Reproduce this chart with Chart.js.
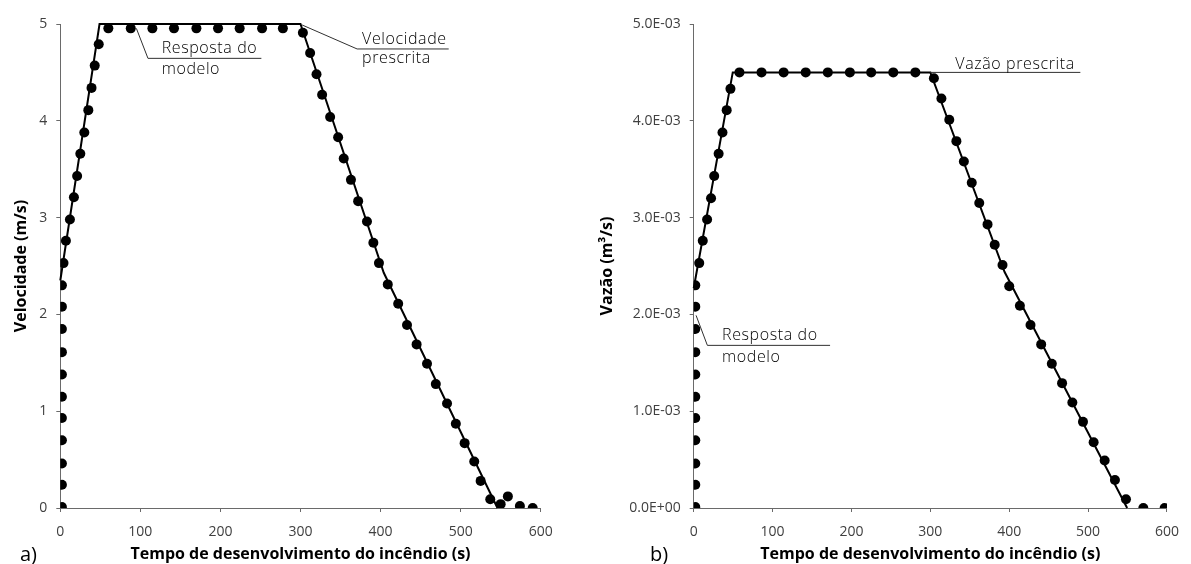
<!DOCTYPE html>
<html>
<head>
<meta charset="utf-8">
<script src="https://cdn.jsdelivr.net/npm/chart.js@4.4.1/dist/chart.umd.min.js"></script>
<style>
  html, body { margin: 0; padding: 0; background: #fff; }
  #wrap { position: relative; width: 1191px; height: 564px; overflow: hidden; }
  canvas { position: absolute; top: 0; }
  #cA { left: 0; }
  #cB { left: 595px; }
</style>
</head>
<body>
<div id="wrap">
  <canvas id="cA" width="595" height="564"></canvas>
  <canvas id="cB" width="596" height="564"></canvas>
</div>
<script>
// ---- axes ----
const tempoTicks = [0, 100, 200, 300, 400, 500, 600];
const velTickVals = [0, 1, 2, 3, 4, 5];
const velTickLabels = ['0', '1', '2', '3', '4', '5'];
const vazaoTickVals = [0, 0.001, 0.002, 0.003, 0.004, 0.005];
const vazaoTickLabels = ['0.0E+00', '1.0E-03', '2.0E-03', '3.0E-03', '4.0E-03', '5.0E-03'];

// ---- a) velocidade: resposta do modelo ----
const tModeloA = [2, 2, 2, 2, 2, 2, 2, 2, 2, 2, 2,
  4, 7, 12, 17, 21, 25, 30, 35, 39, 43, 48,
  60, 88, 115, 142, 170, 197, 224, 252, 278,
  303, 312, 320, 327, 337, 347, 354, 363, 372, 383, 391, 398, 409,
  422, 433, 445, 458, 469, 483, 494, 505, 517, 525, 537,
  550, 559, 574, 590];
const vModeloA = [0.01, 0.24, 0.46, 0.70, 0.93, 1.15, 1.38, 1.61, 1.85, 2.08, 2.30,
  2.53, 2.76, 2.98, 3.21, 3.43, 3.66, 3.88, 4.11, 4.34, 4.57, 4.79,
  4.955, 4.955, 4.955, 4.955, 4.955, 4.955, 4.955, 4.955, 4.955,
  4.91, 4.70, 4.48, 4.27, 4.04, 3.83, 3.61, 3.39, 3.17, 2.96, 2.74, 2.53, 2.31,
  2.11, 1.89, 1.69, 1.49, 1.28, 1.08, 0.87, 0.67, 0.48, 0.28, 0.09,
  0.04, 0.12, 0.02, 0];

// ---- a) velocidade prescrita ----
const tPrescA = [0, 49, 300, 404, 546];
const vPrescA = [2.35, 5, 5, 2.43, 0];

// ---- b) vazão: resposta do modelo ----
const tModeloB = [2, 2, 2, 2, 2, 2, 2, 2, 2, 2, 2,
  7, 11.5, 17, 22, 26, 31.6, 36.5, 41.8, 46.6,
  58, 86, 114, 142, 170, 198, 225, 253, 281,
  304.5, 314, 324, 333, 342.5, 352.5, 362, 372.5, 381.6, 391.5,
  400, 413.5, 427, 440.5, 454, 467, 480, 493.5, 507, 521, 534, 548,
  570, 597];
const qModeloB = [0.01e-3, 0.24e-3, 0.46e-3, 0.70e-3, 0.93e-3, 1.15e-3, 1.38e-3, 1.61e-3, 1.85e-3, 2.08e-3, 2.30e-3,
  2.53e-3, 2.76e-3, 2.98e-3, 3.20e-3, 3.43e-3, 3.66e-3, 3.88e-3, 4.11e-3, 4.33e-3,
  4.5e-3, 4.5e-3, 4.5e-3, 4.5e-3, 4.5e-3, 4.5e-3, 4.5e-3, 4.5e-3, 4.5e-3,
  4.44e-3, 4.23e-3, 4.01e-3, 3.79e-3, 3.58e-3, 3.36e-3, 3.15e-3, 2.93e-3, 2.72e-3, 2.51e-3,
  2.29e-3, 2.09e-3, 1.89e-3, 1.69e-3, 1.49e-3, 1.29e-3, 1.09e-3, 0.89e-3, 0.68e-3, 0.49e-3, 0.29e-3, 0.09e-3,
  0, 0];

// ---- b) vazão prescrita ----
const tPrescB = [0, 49.5, 300, 394, 549.5];
const qPrescB = [2.27e-3, 4.5e-3, 4.5e-3, 2.44e-3, 0];

const AXIS = '#6a6a6a';
const TICK_TXT = '#404040';
const FONT = "'Open Sans', 'Noto Sans', sans-serif";

const pts = (xs, ys) => xs.map((v, i) => ({ x: v, y: ys[i] }));

// Callouts, axis titles and panel letters
const notas = {
  id: 'notas',
  afterDraw(chart, args, o) {
    const { ctx, chartArea: ca, scales: { x, y } } = chart;
    ctx.save();
    ctx.fillStyle = '#000';
    for (const c of o.callouts) {
      const ax = x.getPixelForValue(c.at[0]);
      const ay = y.getPixelForValue(c.at[1]);
      ctx.strokeStyle = '#303030';
      ctx.lineWidth = 1;
      ctx.beginPath();
      ctx.moveTo(ax, ay);
      if (c.elbow) ctx.lineTo(ax + c.elbow[0], ay + c.elbow[1]);
      ctx.lineTo(ax + c.shelf[0], ay + c.shelf[1]);
      ctx.stroke();
      ctx.font = '300 16px ' + FONT;
      ctx.letterSpacing = '0.6px';
      ctx.textAlign = 'left';
      ctx.textBaseline = 'alphabetic';
      c.lines.forEach((s, i) => ctx.fillText(s, ax + c.tx, ay + c.ty[i]));
      ctx.letterSpacing = '0px';
    }
    // x title, centred under the plot
    ctx.font = 'bold 16px ' + FONT;
    ctx.textAlign = 'center';
    ctx.textBaseline = 'middle';
    ctx.fillText(o.xTitle, (ca.left + ca.right) / 2, o.xTitleY);
    // y title (rotated)
    ctx.save();
    ctx.translate(o.yTitleX, (ca.top + ca.bottom) / 2);
    ctx.rotate(-Math.PI / 2);
    ctx.fillText(o.yTitle, 0, 0);
    ctx.restore();
    // panel letter
    ctx.font = '20px ' + FONT;
    ctx.textAlign = 'left';
    ctx.textBaseline = 'alphabetic';
    ctx.fillText(o.letter, o.letterPos[0], o.letterPos[1]);
    ctx.restore();
  }
};

function makeChart(id, cfg) {
  return new Chart(document.getElementById(id), {
    type: 'scatter',
    data: {
      datasets: [
        {
          label: cfg.lineLabel,
          data: pts(cfg.tLine, cfg.yLine),
          showLine: true,
          borderColor: '#000',
          borderWidth: 2,
          pointRadius: 0,
          fill: false,
          clip: 3,
          order: 2
        },
        {
          label: 'Resposta do modelo',
          data: pts(cfg.tPts, cfg.yPts),
          showLine: false,
          pointRadius: 5,
          pointHoverRadius: 5,
          pointBackgroundColor: '#000',
          pointBorderWidth: 0,
          clip: 0,
          order: 1
        }
      ]
    },
    options: {
      responsive: false,
      animation: false,
      devicePixelRatio: 1,
      events: [],
      layout: { padding: { left: 0, right: cfg.padRight, top: 24, bottom: 0 } },
      plugins: {
        legend: { display: false },
        tooltip: { enabled: false },
        notas: cfg.notas
      },
      scales: {
        x: {
          type: 'linear',
          min: 0, max: 600,
          afterBuildTicks: s => { s.ticks = tempoTicks.map(v => ({ value: v })); },
          afterFit: s => { s.height = 56; },
          ticks: { color: TICK_TXT, font: { family: FONT, size: 14 }, padding: 12, maxRotation: 0 },
          grid: { drawOnChartArea: false, drawTicks: true, tickLength: 4, color: AXIS },
          border: { display: true, color: AXIS, width: 1 },
          title: { display: false }
        },
        y: {
          type: 'linear',
          min: cfg.yVals[0], max: cfg.yVals[cfg.yVals.length - 1],
          afterBuildTicks: s => { s.ticks = cfg.yVals.map(v => ({ value: v })); },
          afterFit: s => { s.width = cfg.yWidth; },
          ticks: {
            color: TICK_TXT, font: { family: FONT, size: 14 }, padding: 9,
            callback: (v, i) => cfg.yLabels[i]
          },
          grid: { drawOnChartArea: false, drawTicks: true, tickLength: 4, color: AXIS },
          border: { display: true, color: AXIS, width: 1 },
          title: { display: false }
        }
      }
    },
    plugins: [notas]
  });
}

makeChart('cA', {
  lineLabel: 'Velocidade prescrita',
  tLine: tPrescA, yLine: vPrescA,
  tPts: tModeloA, yPts: vModeloA,
  yVals: velTickVals, yLabels: velTickLabels,
  yWidth: 60.3, padRight: 54.3,
  notas: {
    callouts: [
      { at: [95, 4.955], elbow: [11.6, 30], shelf: [125, 30], tx: 25.3, ty: [24.7, 46], lines: ['Resposta do', 'modelo'] },
      { at: [302, 4.99], elbow: [55, 24], shelf: [146.6, 24], tx: 60, ty: [19, 38], lines: ['Velocidade', 'prescrita'] }
    ],
    xTitle: 'Tempo de desenvolvimento do incêndio (s)', xTitleY: 554,
    yTitle: 'Velocidade (m/s)', yTitleX: 21,
    letter: 'a)', letterPos: [20, 561]
  }
});

makeChart('cB', {
  lineLabel: 'Vazão prescrita',
  tLine: tPrescB, yLine: qPrescB,
  tPts: tModeloB, yPts: qModeloB,
  yVals: vazaoTickVals, yLabels: vazaoTickLabels,
  yWidth: 98.7, padRight: 17,
  notas: {
    callouts: [
      { at: [300, 4.5e-3], elbow: null, shelf: [150, 0], tx: 25, ty: [-3], lines: ['Vazão prescrita'] },
      { at: [3, 1.99e-3], elbow: [11.3, 30], shelf: [134, 30], tx: 26, ty: [25, 47], lines: ['Resposta do', 'modelo'] }
    ],
    xTitle: 'Tempo de desenvolvimento do incêndio (s)', xTitleY: 554,
    yTitle: 'Vazão (m³/s)', yTitleX: 12.5,
    letter: 'b)', letterPos: [55, 561]
  }
});
</script>
</body>
</html>
